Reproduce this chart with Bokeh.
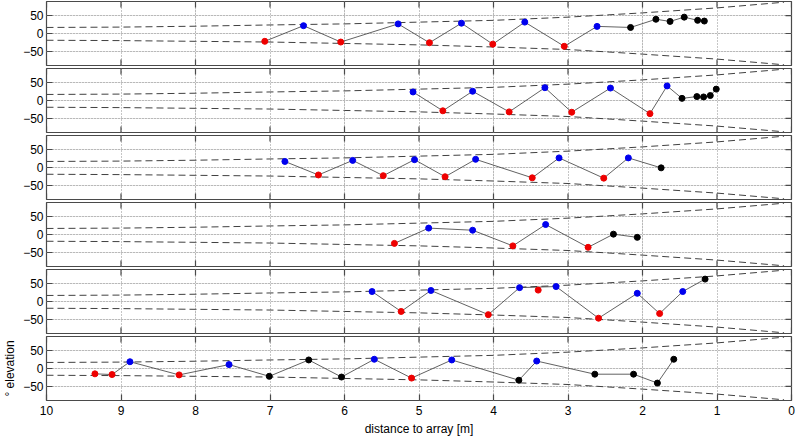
import math
from bokeh.plotting import figure
from bokeh.layouts import column
from bokeh.models import LinearAxis, FixedTicker, Range1d, Grid, ColumnDataSource
from bokeh.embed import file_html
from bokeh.resources import INLINE

# ---- data ----
x_ticks = [0, 1, 2, 3, 4, 5, 6, 7, 8, 9, 10]
y_ticks = [-50, 0, 50]
x_lim = (10, 0)
y_lim = (-90, 90)

funnel_x = [10, 9, 8, 7, 6, 5, 4, 3, 2, 1, 0.1]
funnel_hi = [17, 18, 20.5, 24, 27, 32, 37, 46, 58, 72, 88]
funnel_lo = [-19, -20, -22, -24, -28, -32, -38, -45, -58, -72, -88]

p1_x = [7.07, 6.55, 6.05, 5.28, 4.86, 4.43, 4.01, 3.58, 3.05, 2.61, 2.16, 1.82, 1.63, 1.44, 1.26, 1.17]
p1_y = [-22, 22, -24, 27, -26, 29, -30, 32, -36, 20, 17, 40, 34, 46, 37, 35]
p1_c = ["r", "b", "r", "b", "r", "b", "r", "b", "r", "b", "k", "k", "k", "k", "k", "k"]

p2_x = [5.08, 4.68, 4.28, 3.79, 3.31, 2.95, 2.43, 1.90, 1.67, 1.47, 1.27, 1.18, 1.09, 1.01]
p2_y = [24, -29, 26, -32, 36, -33, 35, -37, 41, 6, 11, 10, 14, 32]
p2_c = ["b", "r", "b", "r", "b", "r", "b", "r", "b", "k", "k", "k", "k", "k"]

p3_x = [6.80, 6.35, 5.89, 5.48, 5.06, 4.65, 4.24, 3.48, 3.12, 2.52, 2.19, 1.75]
p3_y = [17, -21, 20, -23, 22, -26, 23, -29, 27, -30, 27, -1]
p3_c = ["b", "r", "b", "r", "b", "r", "b", "r", "b", "r", "b", "k"]

p4_x = [5.33, 4.87, 4.28, 3.74, 3.30, 2.73, 2.39, 2.07]
p4_y = [-25, 18, 12, -32, 28, -36, 1, -8]
p4_c = ["r", "b", "b", "r", "b", "r", "k", "k"]

p5_x = [5.63, 5.24, 4.84, 4.07, 3.65, 3.16, 2.59, 2.07, 1.77, 1.46, 1.16]
p5_y = [28, -28, 31, -37, 39, 42, -47, 23, -34, 28, 63]
p5_c = ["b", "r", "b", "r", "b", "b", "r", "b", "r", "b", "k"]
p5_extra_x = [3.40]
p5_extra_y = [32]
p5_extra_c = ["r"]

p6_x = [9.35, 9.12, 8.88, 8.22, 7.55, 7.01, 6.48, 6.04, 5.60, 5.10, 4.56, 3.66, 3.42, 2.64, 2.12, 1.80, 1.58]
p6_y = [-15, -17, 19, -18, 11, -22, 24, -24, 26, -27, 24, -33, 21, -16, -16, -41, 26]
p6_c = ["r", "r", "b", "r", "b", "k", "k", "k", "b", "r", "b", "k", "b", "k", "k", "k", "k"]

x_label = "distance to array [m]"
y_label = "° elevation"

panels = [
    (p1_x, p1_y, p1_c, [], [], []),
    (p2_x, p2_y, p2_c, [], [], []),
    (p3_x, p3_y, p3_c, [], [], []),
    (p4_x, p4_y, p4_c, [], [], []),
    (p5_x, p5_y, p5_c, p5_extra_x, p5_extra_y, p5_extra_c),
    (p6_x, p6_y, p6_c, [], [], []),
]

color_map = {"b": "#0000ee", "r": "#ee0000", "k": "#000000"}
FONT = "Liberation Sans"
EDGE = "#4a4a4a"
TICK = 12  # marker size -> 6px visible inside the frame

figs = []
for i, (xs, ys, cs, ex, ey, ec) in enumerate(panels):
    last = i == len(panels) - 1
    p = figure(frame_width=745, frame_height=64,
               x_range=Range1d(*x_lim), y_range=Range1d(*y_lim),
               x_axis_location=None, y_axis_location=None,
               output_backend="svg", toolbar_location=None,
               min_border_left=38, min_border_right=7,
               min_border_top=1, min_border_bottom=2)
    p.outline_line_color = EDGE
    p.outline_line_width = 1.2
    p.background_fill_color = "white"
    p.border_fill_color = "white"

    # grids
    p.add_layout(Grid(dimension=0, ticker=FixedTicker(ticks=x_ticks),
                      grid_line_color="#8c8c8c", grid_line_dash="1 2", grid_line_width=1))
    p.add_layout(Grid(dimension=1, ticker=FixedTicker(ticks=y_ticks),
                      grid_line_color="#8c8c8c", grid_line_dash="1 2", grid_line_width=1))

    left = LinearAxis(ticker=FixedTicker(ticks=y_ticks))
    left.major_tick_in = 6
    left.major_tick_out = 0
    left.minor_tick_line_color = None
    left.axis_line_color = None
    left.major_tick_line_color = EDGE
    left.major_tick_line_width = 1.2
    left.major_label_text_font = FONT
    left.major_label_text_font_size = "12px"
    left.major_label_text_color = "black"
    left.major_label_standoff = 3
    left.axis_label = y_label
    left.axis_label_text_font = FONT
    left.axis_label_text_font_size = "12px"
    left.axis_label_text_font_style = "normal"
    left.axis_label_standoff = 3
    left.axis_label_text_color = "black"
    if not last:
        left.axis_label_text_alpha = 0
    p.add_layout(left, "left")

    if last:
        below = LinearAxis(ticker=FixedTicker(ticks=x_ticks))
        below.major_tick_in = 6
        below.major_tick_out = 0
        below.minor_tick_line_color = None
        below.axis_line_color = None
        below.major_tick_line_color = EDGE
        below.major_tick_line_width = 1.2
        below.major_label_text_font = FONT
        below.major_label_text_font_size = "12px"
        below.major_label_text_color = "black"
        below.major_label_standoff = 5
        below.axis_label = x_label
        below.axis_label_text_font = FONT
        below.axis_label_text_font_size = "12px"
        below.axis_label_text_font_style = "normal"
        below.axis_label_standoff = 4
        below.axis_label_text_color = "black"
        p.add_layout(below, "below")
    else:
        # bottom edge ticks (inside)
        p.scatter(x_ticks, [y_lim[0]] * len(x_ticks), marker="dash", size=TICK,
                  angle=math.pi / 2, line_color=EDGE, line_width=1.2)
    # top edge ticks (inside)
    p.scatter(x_ticks, [y_lim[1]] * len(x_ticks), marker="dash", size=TICK,
              angle=math.pi / 2, line_color=EDGE, line_width=1.2)
    # right edge ticks (inside)
    p.scatter([x_lim[1]] * len(y_ticks), y_ticks, marker="dash", size=TICK,
              line_color=EDGE, line_width=1.2)

    # funnel
    p.line(funnel_x, funnel_hi, line_color="#404040", line_dash="7 4", line_width=1)
    p.line(funnel_x, funnel_lo, line_color="#404040", line_dash="7 4", line_width=1)

    # connected sequence
    src = ColumnDataSource(dict(x=xs, y=ys, c=[color_map[c] for c in cs]))
    p.line("x", "y", source=src, line_color="#3a3a3a", line_width=0.8)
    p.scatter("x", "y", source=src, size=6, fill_color="c", line_color="c")
    if ex:
        esrc = ColumnDataSource(dict(x=ex, y=ey, c=[color_map[c] for c in ec]))
        p.scatter("x", "y", source=esrc, size=6, fill_color="c", line_color="c")

    figs.append(p)

layout = column(*figs, spacing=0)
open("out.html", "w").write(file_html(layout, INLINE))
